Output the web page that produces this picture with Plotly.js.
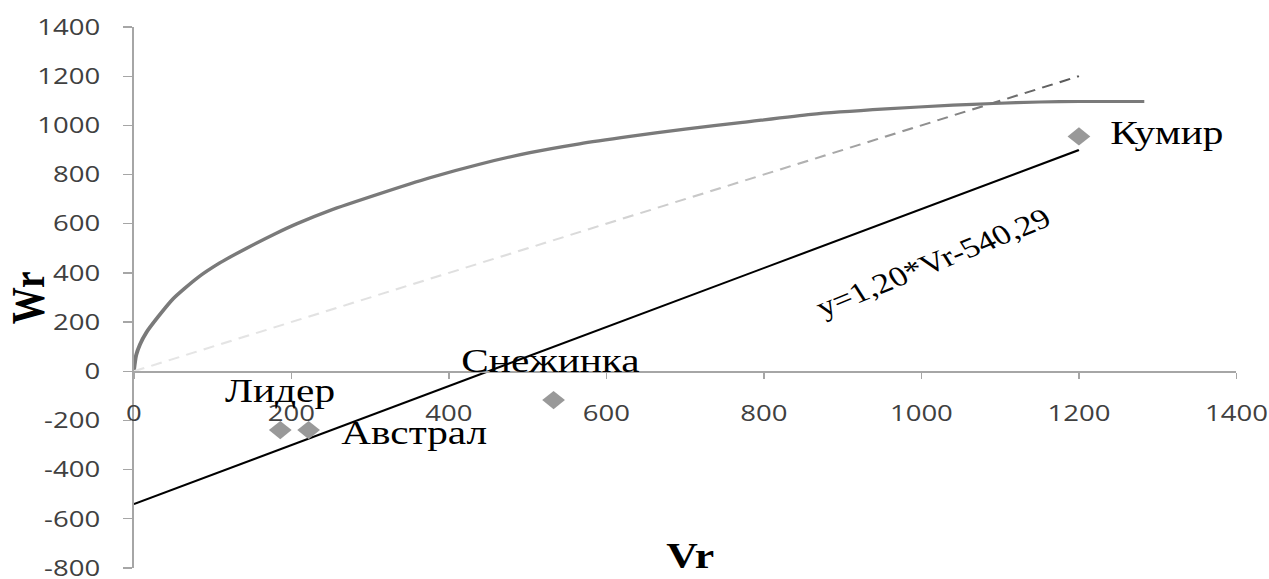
<!DOCTYPE html>
<html>
<head>
<meta charset="utf-8">
<script src="https://cdn.plot.ly/plotly-3.0.1.min.js"></script>
<style>
  html, body { margin: 0; padding: 0; background: #fff; overflow: hidden; width: 1269px; height: 579px; }
  #wrap { width: 1269px; height: 579px; overflow: hidden; }
  #chart { width: 1015px; height: 579px; transform: scaleX(1.2502); transform-origin: 0 0; }
</style>
</head>
<body>
<div id="wrap"><div id="chart"></div></div>
<script>
// ---- data ----
const cultivars = ['Лидер', 'Австрал', 'Снежинка', 'Кумир'];
const cultivarVr = [186, 222, 533, 1200];
const cultivarWr = [-239, -239, -117, 955];

// limiting curve
const curveVr = [0, 3, 8, 16, 31, 50, 80, 110, 143, 180, 207, 249, 312, 376, 439, 503, 566, 630, 700, 773, 860, 955, 1040, 1091, 1150, 1200, 1283];
const curveWr = [0, 65, 110, 158, 222, 295, 378, 442, 500, 560, 600, 654, 722, 787, 842, 889, 925, 955, 985, 1012, 1045, 1067, 1082, 1089, 1095, 1097, 1097];

// regression line y = 1,20*Vr - 540,29
const regVr = [0, 1200];
const regWr = [-540.29, 899.71];
const regLabel = 'y=1,20*Vr-540,29';

// diagonal Wr = Vr
const diagVr = [0, 1200];
const diagWr = [0, 1200];

const xTicks = [0, 200, 400, 600, 800, 1000, 1200, 1400];
const yTicks = [-800, -600, -400, -200, 0, 200, 400, 600, 800, 1000, 1200, 1400];

// ---- styles ----
const labelStyle = [
  {xanchor: 'center', xshift: 0, yshift: 39},
  {xanchor: 'left', xshift: 24, yshift: -3},
  {xanchor: 'center', xshift: -2, yshift: 39},
  {xanchor: 'left', xshift: 23, yshift: 3}
];
const serif = 'Liberation Serif, Times New Roman, serif';

const traces = [
  {x: curveVr, y: curveWr, type: 'scatter', mode: 'lines',
   line: {color: '#7a7a7a', width: 3.2, shape: 'spline', smoothing: 0.6}, hoverinfo: 'skip'},
  {x: diagVr, y: diagWr, type: 'scatter', mode: 'lines',
   line: {color: '#b0b0b0', width: 2, dash: '9px,6px'}, hoverinfo: 'skip'},
  {x: regVr, y: regWr, type: 'scatter', mode: 'lines',
   line: {color: '#000000', width: 2}, hoverinfo: 'skip'},
  {x: cultivarVr, y: cultivarWr, type: 'scatter', mode: 'markers',
   marker: {symbol: 'diamond', size: 14, color: '#999999', line: {width: 0}}, hoverinfo: 'skip'}
];

const annotations = cultivars.map((name, i) => ({
  x: cultivarVr[i], y: cultivarWr[i], xref: 'x', yref: 'y',
  text: name, showarrow: false,
  xanchor: labelStyle[i].xanchor, yanchor: 'middle',
  xshift: labelStyle[i].xshift, yshift: labelStyle[i].yshift,
  font: {family: serif, size: 33, color: '#000'}
}));

annotations.push({
  x: 1014, y: 443, xref: 'x', yref: 'y', text: regLabel, showarrow: false,
  textangle: -26.8, xanchor: 'center', yanchor: 'middle',
  font: {family: serif, size: 28, color: '#000'}
});
annotations.push({
  x: -0.096, y: 0.499, xref: 'paper', yref: 'paper', text: '<b>Wr</b>', showarrow: false,
  textangle: -90, xanchor: 'center', yanchor: 'middle',
  font: {family: serif, size: 37, color: '#000'}
});
annotations.push({
  x: 0.505, y: 0.022, xref: 'paper', yref: 'paper', text: '<b>Vr</b>', showarrow: false,
  xanchor: 'center', yanchor: 'middle',
  font: {family: serif, size: 35, color: '#000'}
});

const axisColor = '#a6a6a6';
const tickFont = {family: 'Open Sans, DejaVu Sans, sans-serif', size: 22, color: '#404040'};

const layout = {
  width: 1015, height: 579,
  margin: {l: 107, r: 26, t: 27, b: 11, pad: 0},
  paper_bgcolor: '#ffffff', plot_bgcolor: '#ffffff',
  showlegend: false,
  xaxis: {
    range: [0, 1400], tickvals: xTicks, ticktext: xTicks.map(String),
    anchor: 'free', position: 800 / 2200,
    showline: true, linecolor: axisColor, linewidth: 1.5,
    ticks: 'outside', ticklen: 6, tickwidth: 1.2, tickcolor: axisColor,
    ticklabelstandoff: 16, ticklabeloverflow: 'allow',
    showgrid: false, zeroline: false, tickfont: tickFont, automargin: false
  },
  yaxis: {
    range: [-800, 1400], tickvals: yTicks, ticktext: yTicks.map(String),
    domain: [0, 1],
    showline: true, linecolor: axisColor, linewidth: 1.5,
    ticks: 'outside', ticklen: 7, tickwidth: 1.2, tickcolor: axisColor,
    ticklabelstandoff: 14, ticklabeloverflow: 'allow',
    showgrid: false, zeroline: false, tickfont: tickFont, automargin: false
  },
  annotations: annotations
};

Plotly.newPlot('chart', traces, layout, {staticPlot: true, displayModeBar: false}).then(gd => {
  // gradient stroke for the dashed diagonal (light at origin, darker at the top end)
  const svgNS = 'http://www.w3.org/2000/svg';
  const svg = gd.querySelector('svg.main-svg');
  let defs = svg.querySelector('defs');
  if (!defs) { defs = document.createElementNS(svgNS, 'defs'); svg.insertBefore(defs, svg.firstChild); }
  const grad = document.createElementNS(svgNS, 'linearGradient');
  grad.setAttribute('id', 'diagGrad');
  grad.setAttribute('x1', '0'); grad.setAttribute('y1', '0');
  grad.setAttribute('x2', '1'); grad.setAttribute('y2', '0');
  [['0', '#e6e6e6'], ['0.45', '#dddddd'], ['0.65', '#c0c0c0'], ['0.85', '#8c8c8c'], ['1', '#555555']].forEach(([o, c]) => {
    const s = document.createElementNS(svgNS, 'stop');
    s.setAttribute('offset', o); s.setAttribute('stop-color', c);
    grad.appendChild(s);
  });
  defs.appendChild(grad);
  const traceGroups = gd.querySelectorAll('.scatterlayer .trace');
  if (traceGroups[1]) {
    const p = traceGroups[1].querySelector('path.js-line');
    if (p) p.style.stroke = 'url(#diagGrad)';
  }
});
</script>
</body>
</html>
